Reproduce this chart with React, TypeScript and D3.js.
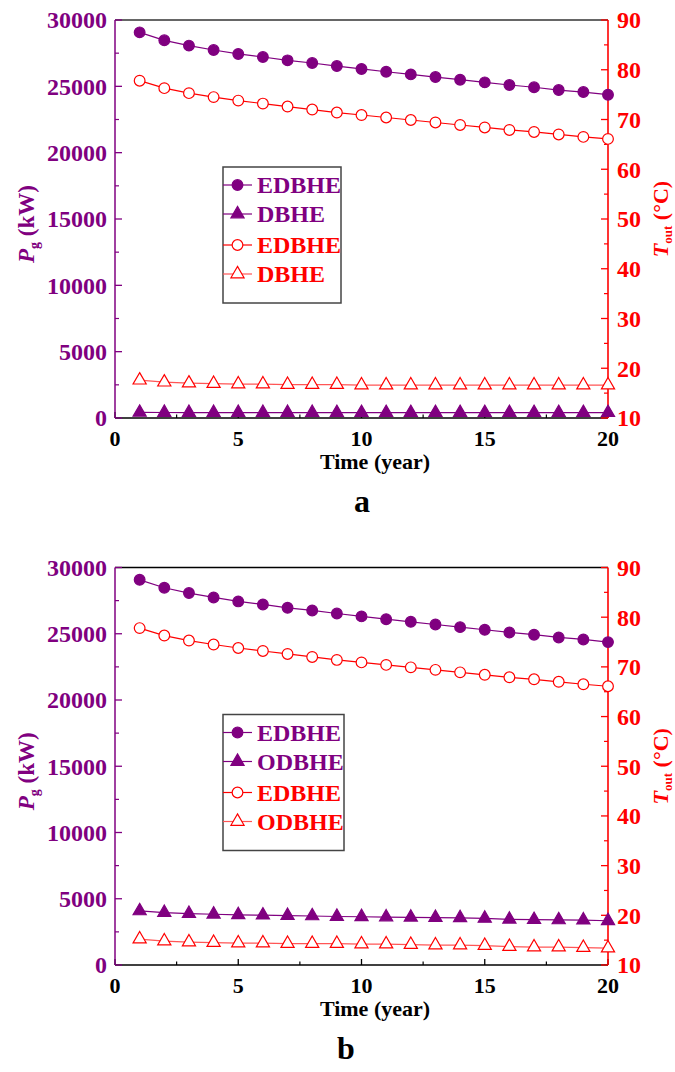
import React from "react";
import * as d3 from "d3";

const years = [1, 2, 3, 4, 5, 6, 7, 8, 9, 10, 11, 12, 13, 14, 15, 16, 17, 18, 19, 20];

const edbhePg = [29070, 28470, 28070, 27740, 27440, 27210, 26960, 26760, 26530, 26310, 26100, 25900, 25700, 25500, 25300, 25100, 24930, 24720, 24570, 24370];
const edbheTout = [77.8, 76.3, 75.3, 74.5, 73.8, 73.2, 72.6, 72.0, 71.4, 70.9, 70.4, 69.9, 69.4, 68.9, 68.4, 67.9, 67.5, 67.0, 66.5, 66.1];

const dbhePg = [420, 415, 410, 408, 405, 405, 403, 403, 400, 400, 400, 400, 400, 400, 400, 400, 400, 400, 400, 400];
const dbheTout = [17.6, 17.2, 17.0, 16.9, 16.8, 16.8, 16.7, 16.7, 16.7, 16.6, 16.6, 16.6, 16.6, 16.6, 16.6, 16.6, 16.6, 16.6, 16.6, 16.6];

const odbhePg = [4080, 3950, 3880, 3830, 3790, 3760, 3730, 3700, 3660, 3640, 3620, 3600, 3580, 3560, 3520, 3450, 3420, 3400, 3390, 3340];
const odbheTout = [15.2, 14.8, 14.6, 14.5, 14.4, 14.4, 14.3, 14.3, 14.3, 14.2, 14.2, 14.1, 14.0, 14.0, 13.9, 13.7, 13.6, 13.6, 13.5, 13.4];

const xTicks = [0, 5, 10, 15, 20];
const pgTicks = [0, 5000, 10000, 15000, 20000, 25000, 30000];
const tTicks = [10, 20, 30, 40, 50, 60, 70, 80, 90];

const legendA = ["EDBHE", "DBHE", "EDBHE", "DBHE"];
const legendB = ["EDBHE", "ODBHE", "EDBHE", "ODBHE"];

const PURPLE = "#800080";
const RED = "#ff0000";
const FONT = "'Liberation Serif', 'Times New Roman', serif";

type PanelProps = {
  top: number;
  bottom: number;
  triPg: number[];
  triT: number[];
  labels: string[];
  letter: string;
  letterX: number;
  legendW: number;
  topColor: string;
};

function Marker({ x, y, kind, filled, color }: { x: number; y: number; kind: string; filled: boolean; color: string }) {
  const sym = kind === "circle" ? d3.symbol().type(d3.symbolCircle).size(90) : d3.symbol().type(d3.symbolTriangle).size(75);
  return (
    <path
      d={sym() as string}
      transform={`translate(${x},${y})`}
      fill={filled ? color : "#fff"}
      stroke={color}
      strokeWidth={1.2}
    />
  );
}

function Panel({ top, bottom, triPg, triT, labels, letter, letterX, legendW, topColor }: PanelProps) {
  const left = 115;
  const right = 608;
  const x = d3.scaleLinear().domain([0, 20]).range([left, right]);
  const yP = d3.scaleLinear().domain([0, 30000]).range([bottom, top]);
  const yT = d3.scaleLinear().domain([10, 90]).range([bottom, top]);

  const lineP = d3.line<number>().x((_, i) => x(years[i])).y((d) => yP(d));
  const lineT = d3.line<number>().x((_, i) => x(years[i])).y((d) => yT(d));

  const series = [
    { data: edbhePg, line: lineP, y: yP, kind: "circle", filled: true, color: PURPLE, lineColor: PURPLE },
    { data: triPg, line: lineP, y: yP, kind: "triangle", filled: true, color: PURPLE, lineColor: PURPLE },
    { data: edbheTout, line: lineT, y: yT, kind: "circle", filled: false, color: RED, lineColor: RED },
    { data: triT, line: lineT, y: yT, kind: "triangle", filled: false, color: RED, lineColor: "#ff5555" },
  ];

  const pgMinor = d3.range(2500, 30000, 5000);
  const tMinor = d3.range(15, 90, 10);
  const xMinor = [2.5, 7.5, 12.5, 17.5];

  const legX = 223;
  const legTop = top + 147;
  const legRows = [top + 165, top + 194, top + 225, top + 254];

  const midY = (top + bottom) / 2;

  return (
    <g fontFamily={FONT} fontWeight="bold">
      {/* top border */}
      <line x1={left} x2={right} y1={top} y2={top} stroke={topColor} strokeWidth={1.5} />
      {/* bottom axis */}
      <line x1={left} x2={right} y1={bottom} y2={bottom} stroke="#000" strokeWidth={1.5} />
      {xTicks.map((t) => (
        <g key={"xt" + t}>
          <line x1={x(t)} x2={x(t)} y1={bottom} y2={bottom - 6} stroke="#000" strokeWidth={1.3} />
          <text x={x(t)} y={bottom + 28} textAnchor="middle" fontSize={22} fill="#000">
            {t}
          </text>
        </g>
      ))}
      {xMinor.map((t) => (
        <line key={"xm" + t} x1={x(t)} x2={x(t)} y1={bottom} y2={bottom - 3.5} stroke="#000" strokeWidth={1.2} />
      ))}
      <text x={375} y={bottom + 51} textAnchor="middle" fontSize={22} fill="#000">
        Time (year)
      </text>
      <text x={letterX} y={bottom + 94} textAnchor="middle" fontSize={32} fill="#000">
        {letter}
      </text>

      {/* left axis */}
      <line x1={left} x2={left} y1={top} y2={bottom} stroke={PURPLE} strokeWidth={1.5} />
      {pgTicks.map((t) => (
        <g key={"pt" + t}>
          <line x1={left} x2={left + 7} y1={yP(t)} y2={yP(t)} stroke={PURPLE} strokeWidth={1.3} />
          <text x={107} y={yP(t)} dy="0.35em" textAnchor="end" fontSize={24} fill={PURPLE}>
            {t}
          </text>
        </g>
      ))}
      {pgMinor.map((t) => (
        <line key={"pm" + t} x1={left} x2={left + 4} y1={yP(t)} y2={yP(t)} stroke={PURPLE} strokeWidth={1.2} />
      ))}
      <text
        transform={`translate(34,${midY + 5}) rotate(-90)`}
        textAnchor="middle"
        fontSize={23}
        fill={PURPLE}
      >
        <tspan fontStyle="italic">P</tspan>
        <tspan fontSize={14} dy={5}>g</tspan>
        <tspan dy={-5}> (kW)</tspan>
      </text>

      {/* right axis */}
      <line x1={right} x2={right} y1={top} y2={bottom} stroke={RED} strokeWidth={1.6} />
      {tTicks.map((t) => (
        <g key={"tt" + t}>
          <line x1={right} x2={right - 7} y1={yT(t)} y2={yT(t)} stroke={RED} strokeWidth={1.3} />
          <text x={617} y={yT(t)} dy="0.35em" textAnchor="start" fontSize={24} fill={RED}>
            {t}
          </text>
        </g>
      ))}
      {tMinor.map((t) => (
        <line key={"tm" + t} x1={right} x2={right - 4} y1={yT(t)} y2={yT(t)} stroke={RED} strokeWidth={1.2} />
      ))}
      <text
        transform={`translate(668,${midY}) rotate(-90)`}
        textAnchor="middle"
        fontSize={22}
        fill={RED}
      >
        <tspan fontStyle="italic">T</tspan>
        <tspan fontSize={13} dy={4}>out</tspan>
        <tspan dy={-4}> (°C)</tspan>
      </text>

      {/* series */}
      {series.map((s, si) => (
        <g key={"s" + si}>
          <path d={s.line(s.data) as string} fill="none" stroke={s.lineColor} strokeWidth={1.2} />
          {s.data.map((v, i) => (
            <Marker key={i} x={x(years[i])} y={s.y(v)} kind={s.kind} filled={s.filled} color={s.color} />
          ))}
        </g>
      ))}

      {/* legend */}
      <rect x={legX} y={legTop} width={legendW} height={136} fill="#fff" stroke="#444" strokeWidth={1.5} />
      {series.map((s, i) => (
        <g key={"l" + i}>
          <line x1={legX} x2={legX + 29} y1={legRows[i]} y2={legRows[i]} stroke={s.lineColor} strokeWidth={1.2} />
          <Marker x={legX + 14.5} y={legRows[i]} kind={s.kind} filled={s.filled} color={s.color} />
          <text x={legX + 34} y={legRows[i]} dy="0.35em" fontSize={24} fill={s.color}>
            {labels[i]}
          </text>
        </g>
      ))}
    </g>
  );
}

export default function App() {
  return (
    <svg
      width={675}
      height={1072}
      style={{ position: "absolute", left: 0, top: 0, background: "#fff" }}
    >
      <rect x={0} y={0} width={675} height={1072} fill="#fff" />
      <Panel top={20} bottom={418} triPg={dbhePg} triT={dbheTout} labels={legendA} letter="a" letterX={362} legendW={118} topColor="#333" />
      <Panel top={567.5} bottom={965} triPg={odbhePg} triT={odbheTout} labels={legendB} letter="b" letterX={346} legendW={121} topColor="#000" />
    </svg>
  );
}
